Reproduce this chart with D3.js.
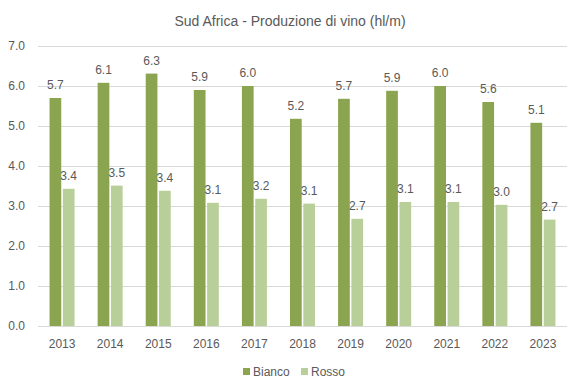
<!DOCTYPE html>
<html>
<head>
<meta charset="utf-8">
<script src="https://cdn.jsdelivr.net/npm/d3@7"></script>
<style>
  body { margin: 0; background: #fff; }
  text { font-family: "Liberation Sans", Arial, sans-serif; fill: #595959; }
</style>
</head>
<body>
<div id="chart"></div>
<script>
// data
var years = ['2013','2014','2015','2016','2017','2018','2019','2020','2021','2022','2023'];
var bianco = [5.70, 6.08, 6.31, 5.90, 6.00, 5.18, 5.68, 5.88, 6.00, 5.60, 5.08];
var rosso  = [3.43, 3.51, 3.38, 3.08, 3.18, 3.06, 2.68, 3.10, 3.10, 3.03, 2.66];
var series_names = ['Bianco', 'Rosso'];
var y_ticks = [0, 1, 2, 3, 4, 5, 6, 7];

const width = 581, height = 392;
const plot_left = 38, plot_right = 567, plot_top = 46, plot_bottom = 326;
const colors = ['#8aa44f', '#b9cf99'];

var svg = d3.select('#chart').append('svg')
  .attr('width', width)
  .attr('height', height);

var x = d3.scaleBand().domain(years).range([plot_left, plot_right]).paddingInner(0.48).paddingOuter(0.24);
var x_inner = d3.scaleBand().domain(series_names).range([0, x.bandwidth()]).paddingInner(0.12);
var y = d3.scaleLinear().domain([0, 7]).range([plot_bottom, plot_top]);
var fmt = d3.format('.1f');

// title
svg.append('text')
  .attr('x', 290)
  .attr('y', 26)
  .attr('text-anchor', 'middle')
  .style('font-size', '14px')
  .text('Sud Africa - Produzione di vino (hl/m)');

// gridlines
svg.append('g').selectAll('line').data(y_ticks).enter().append('line')
  .attr('x1', plot_left).attr('x2', plot_right)
  .attr('y1', d => y(d) + 0.5).attr('y2', d => y(d) + 0.5)
  .attr('stroke', '#d9d9d9');

// y axis labels
var yAxis = d3.axisLeft(y).tickValues(y_ticks).tickFormat(fmt).tickSize(0).tickPadding(13);
var gy = svg.append('g').attr('transform', `translate(${plot_left},0)`).call(yAxis);
gy.select('.domain').remove();
gy.selectAll('text').style('font-size', '12px').attr('fill', '#595959').attr('font-family', null);

// x axis labels
var xAxis = d3.axisBottom(x).tickSize(0).tickPadding(13);
var gx = svg.append('g').attr('transform', `translate(0,${plot_bottom})`).call(xAxis);
gx.select('.domain').remove();
gx.selectAll('text').style('font-size', '12px').attr('fill', '#595959').attr('font-family', null);

var rows = years.map((yr, i) => ({year: yr, vals: [bianco[i], rosso[i]]}));

var groups = svg.append('g').selectAll('g').data(rows).enter().append('g')
  .attr('transform', d => `translate(${x(d.year)},0)`);

groups.selectAll('rect')
  .data(d => d.vals.map((v, k) => ({name: series_names[k], v: v, k: k})))
  .enter().append('rect')
  .attr('x', d => x_inner(d.name))
  .attr('y', d => y(d.v))
  .attr('width', x_inner.bandwidth())
  .attr('height', d => plot_bottom - y(d.v))
  .attr('fill', d => colors[d.k]);

groups.selectAll('text.lbl')
  .data(d => d.vals.map((v, k) => ({name: series_names[k], v: v, k: k})))
  .enter().append('text')
  .attr('class', 'lbl')
  .attr('x', d => x_inner(d.name) + x_inner.bandwidth() / 2)
  .attr('y', d => y(d.v) - 9)
  .attr('text-anchor', 'middle')
  .style('font-size', '12px')
  .text(d => fmt(d.v));

// legend
var legend = svg.append('g');
var leg_x = [243, 301];
series_names.forEach(function(name, k){
  legend.append('rect')
    .attr('x', leg_x[k]).attr('y', 368)
    .attr('width', 7).attr('height', 7)
    .attr('fill', colors[k]);
  legend.append('text')
    .attr('x', leg_x[k] + 10).attr('y', 376)
    .style('font-size', '12px')
    .text(name);
});
</script>
</body>
</html>
